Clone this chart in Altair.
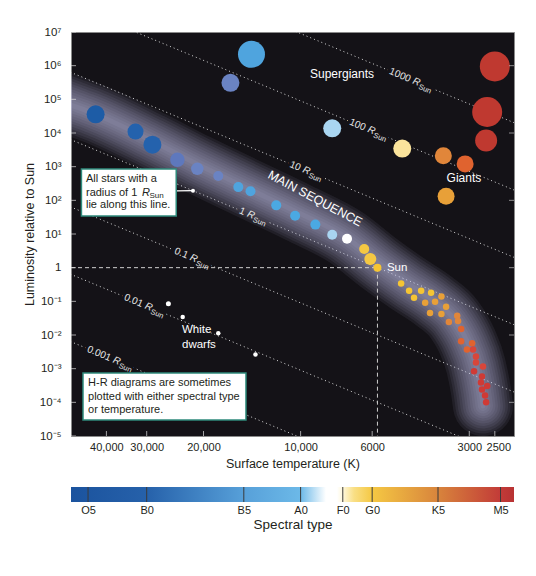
import math
import pandas as pd
import altair as alt

# ------------------------------------------------------------------ data
T_SUN = 5778.0
T_RANGE = [2180, 51500]      # temperature range shown (K)
L_RANGE = [1e-5, 1e7]        # luminosity range shown (L_sun)

# upper main sequence: temperature (K), luminosity (L_sun), spectral class, symbol diameter
ms_temp = [43200, 32500, 28800, 24100, 20900, 18000, 15600, 14300, 11900, 10400, 9000, 7980, 7180, 6350, 6080, 5778]
ms_lum = [3.6e4, 1.1e4, 4500, 1600, 860, 530, 247, 187, 71, 35, 19, 9.5, 7.2, 3.6, 1.8, 1.0]
ms_type = ["O5", "O8", "O8", "B1", "B2", "B2", "B5", "B5", "B8", "B8", "B8", "A5", "F0", "F5", "F5", "G2"]
ms_symbol = [18, 16, 18, 14.5, 12.5, 10, 10, 10, 10, 10, 10, 10, 10, 10, 12, 8]

# lower main sequence (K and M dwarfs)
dw_temp = [4880, 4610, 4230, 3940, 4450, 3660, 4110, 3830, 3540, 3970, 3660, 3270, 3470, 3250, 3180,
           3180, 2940, 3050, 2920, 2860, 2860, 2720, 2900, 2740, 2760, 2640, 2740, 2680, 2660]
dw_lum = [0.339, 0.208, 0.208, 0.18, 0.128, 0.138, 0.091, 0.097, 0.069, 0.045, 0.042, 0.037, 0.0243, 0.026, 0.015,
          0.0065, 0.00566, 0.00373, 0.00373, 0.0023, 0.00152, 0.00115, 8.4e-4, 5.9e-4, 3.9e-4, 3.07e-4, 2.4e-4, 1.6e-4, 1.0e-4]
dw_type = ["K0", "K0", "K0", "K0", "K0", "K3", "K3", "K3", "K3", "K3", "K3", "K7", "K7", "K7", "M0",
           "M0", "M0", "M0", "M2", "M2", "M2", "M2", "M4", "M4", "M4", "M4", "M4", "M4", "M4"]
dw_symbol = [6.5, 6.5, 6.5, 6.5, 6.5, 6.5, 6.5, 6.5, 6.5, 6.5, 6.5, 6.5, 6.5, 6.5, 6.5,
             6.5, 6.5, 6.5, 6.5, 6.5, 6.5, 6.5, 6.5, 6.5, 6.5, 6.5, 6.5, 6.5, 6.5]

# giants and supergiants
gi_temp = [2500, 2640, 2660, 14200, 16500, 7980, 4840, 3610, 3090, 3540]
gi_lum = [9.5e5, 4.2e4, 6000, 2.17e6, 3.1e5, 1.38e4, 3440, 2110, 1210, 132]
gi_type = ["M5", "M5", "M5", "B5", "B2", "A5", "G5", "K7", "M0", "K3"]
gi_symbol = [30, 30, 22, 27, 18, 18, 18, 17, 17, 17]

# white dwarfs
wd_temp = [25700, 23200, 18000, 13800]
wd_lum = [0.0847, 0.0344, 0.0113, 0.00264]
wd_type = ["D", "D", "D", "D"]
wd_symbol = [5, 4.5, 4.5, 4.5]

# spectral class -> star colour
type_domain = ["O5", "O8", "B1", "B2", "B5", "B8", "A5", "F0", "F5", "G2", "G5",
               "K0", "K3", "K7", "M0", "M2", "M4", "M5", "D"]
type_colors = ["#1d5ca6", "#2462ad", "#5e78bd", "#6a83c3", "#4fa4de", "#4ba9e2", "#a9d5f1", "#ffffff",
               "#f5c843", "#f6c532", "#fbe49c", "#f5c534", "#e8a038", "#e1863a", "#e0632f",
               "#d8463a", "#cf3a35", "#bf3930", "#ffffff"]

# main-sequence band centre line
band_temp = [64700, 51500, 43390, 28880, 20960, 14450, 10120, 7180, 5716, 4681, 3861, 3346, 3051, 2860, 2760, 2720]
band_lum = [1.54e5, 6.79e4, 3.67e4, 5790, 1202, 217, 42.1, 7.62, 1.38, 0.351, 0.1026, 0.0299, 0.00665, 0.0012, 2.18e-4, 7.8e-5]

# lines of constant radius
radii = [1000, 100, 10, 1, 0.1, 0.01, 0.001]
radius_text = ["1000", "100", "10", "1", "0.1", "0.01", "0.001"]
radius_label_temp = [4510, 6220, 9890, 14700, 22100, 30500, 38300]
radius_line_temp = [90000, 1500]

# axes
y_ticks = [1e-5, 1e-4, 1e-3, 1e-2, 1e-1, 1, 1e1, 1e2, 1e3, 1e4, 1e5, 1e6, 1e7]
y_right_ticks = [1e-4, 1e-2, 1, 1e2, 1e4, 1e6]
x_ticks = [40000, 30000, 20000, 10000, 6000, 3000, 2500]

# spectral type bar
spec_names = ["O5", "B0", "B5", "A0", "F0", "G0", "K5", "M5"]
spec_temp = [45600, 30000, 15000, 10000, 7400, 6000, 3750, 2400]
grad_temp = [51500, 30000, 15000, 10000, 8345, 7715, 7400, 6832, 6000, 3750, 2400, 2180]
grad_color = ["#1b539e", "#2661aa", "#57a0d9", "#6cb9e8", "#ffffff", "#ffffff", "#fff8dc", "#f9df85",
              "#f5c843", "#d8843c", "#c23b38", "#b83233"]

# annotations
box1 = {"t1": 47800, "t2": 24300, "l1": 853, "l2": 34.3}
box1_lines = ["All stars with a", "radius of 1", "lie along this line."]
box1_temp = 46280
box1_lum = [430, 165, 72.8]
box2 = {"t1": 47270, "t2": 14770, "l1": 7.45e-4, "l2": 2.99e-5}
box2_lines = ["H-R diagrams are sometimes", "plotted with either spectral type", "or temperature."]
box2_temp = 45600
box2_lum = [3.76e-4, 1.44e-4, 5.93e-5]
pointer_temp = [24300, 21560]
pointer_lum_start = 190

# ------------------------------------------------------------------ style
BG = "#141217"
FONT = "Liberation Sans"
INK = "#231f20"
W, H = 443, 404


def lum_on_radius(r, t):
    return r ** 2 * (t / T_SUN) ** 4


xs = alt.Scale(type="log", domain=T_RANGE, reverse=True, nice=False)
ys = alt.Scale(type="log", domain=L_RANGE, nice=False)

sup = {"-": "\u207b", "0": "\u2070", "1": "\u00b9", "2": "\u00b2", "3": "\u00b3", "4": "\u2074",
       "5": "\u2075", "6": "\u2076", "7": "\u2077", "8": "\u2078", "9": "\u2079"}
y_labels = ["1" if e == 0 else "10" + "".join(sup[c] for c in str(e)) for e in range(-5, 8)]
y_expr = "[" + ",".join("'%s'" % s for s in y_labels) + "][round(log(datum.value)/LN10)+5]"

x_expr = "datum.value >= 10000 ? format(datum.value, ',') : format(datum.value, 'd')"
x_axis = alt.Axis(values=x_ticks, title="Surface temperature (K)", ticks=False, tickSize=0, domain=False,
                  grid=False, labelPadding=5, titlePadding=5, labelFontSize=11, titleFontSize=12.5,
                  labelOverlap=False, labelFlush=False, labelExpr=x_expr,
                  labelOffset={"condition": {"test": "datum.value == 2500", "value": 3.5}, "value": 0})
y_axis = alt.Axis(values=y_ticks, title="Luminosity relative to Sun", ticks=False, tickSize=0, domain=False,
                  grid=False, labelPadding=10, titlePadding=2.4, labelFontSize=11.5, titleFontSize=12.5,
                  labelOverlap=False, labelFlush=False, labelExpr=y_expr)


def X(f):
    return alt.X(f, type="quantitative", scale=xs, axis=x_axis)


def Y(f):
    return alt.Y(f, type="quantitative", scale=ys, axis=y_axis)


# ------------------------------------------------------------------ layers
layers = []

# constant-radius lines
rl = []
for r, name in zip(radii, radius_text):
    for t in radius_line_temp:
        rl.append({"R": name, "T": t, "L": lum_on_radius(r, t)})
layers.append(
    alt.Chart(pd.DataFrame(rl)).mark_line(color="#d8d8d8", strokeWidth=1, strokeDash=[1, 3], clip=True)
    .encode(x=X("T"), y=Y("L"), detail="R:N")
)

# radius labels: dark halo that interrupts the dotted line
lab = pd.DataFrame({"num": radius_text, "T": radius_label_temp,
                    "L": [lum_on_radius(r, t) for r, t in zip(radii, radius_label_temp)],
                    "R": ["R"] * len(radii), "S": ["Sun"] * len(radii)})
ANG = 22.6
pieces = [("num", dict(align="right", dx=-2, fontSize=10)),
          ("R", dict(align="left", dx=1, fontSize=10, fontStyle="italic")),
          ("S", dict(align="left", dx=8.5, dy=3.5, fontSize=7.5))]
for field, kw in pieces:
    layers.append(alt.Chart(lab).mark_text(baseline="middle", angle=ANG, color=BG, stroke=BG, strokeWidth=6, **kw)
                  .encode(x=X("T"), y=Y("L"), text=f"{field}:N"))

# main-sequence glow
band_df = pd.DataFrame({"T": band_temp, "L": band_lum, "i": list(range(len(band_temp)))})
for w in [60, 55, 50, 45, 40, 35, 30, 25, 20, 15, 10, 5]:
    layers.append(
        alt.Chart(band_df).mark_line(strokeWidth=w, color="#cdcdf2", opacity=0.075, strokeCap="round",
                                     strokeJoin="round", interpolate="monotone", clip=True)
        .encode(x=X("T"), y=Y("L"), order="i:Q")
    )

for field, kw in pieces:
    layers.append(alt.Chart(lab).mark_text(baseline="middle", angle=ANG, color="#e8e8e8", **kw)
                  .encode(x=X("T"), y=Y("L"), text=f"{field}:N"))

# Sun guide lines
sun_h = pd.DataFrame({"T": [T_RANGE[1]], "T2": [T_SUN], "L": [1.0]})
sun_v = pd.DataFrame({"T": [T_SUN], "L": [1.0], "L2": [L_RANGE[0]]})
layers.append(alt.Chart(sun_h).mark_rule(color="#cfcfcf", strokeWidth=1, strokeDash=[4, 3])
              .encode(x=X("T"), x2="T2", y=Y("L")))
layers.append(alt.Chart(sun_v).mark_rule(color="#cfcfcf", strokeWidth=1, strokeDash=[4, 3])
              .encode(x=X("T"), y=Y("L"), y2="L2"))

# stars
stars = pd.DataFrame({
    "T": gi_temp + ms_temp + dw_temp + wd_temp,
    "L": gi_lum + ms_lum + dw_lum + wd_lum,
    "type": gi_type + ms_type + dw_type + wd_type,
    "symbol": gi_symbol + ms_symbol + dw_symbol + wd_symbol,
})
layers.append(
    alt.Chart(stars).mark_circle(opacity=1, strokeWidth=0)
    .encode(x=X("T"), y=Y("L"),
            color=alt.Color("type:N", scale=alt.Scale(domain=type_domain, range=type_colors), legend=None),
            size=alt.Size("symbol:Q", scale=alt.Scale(type="pow", exponent=2, domain=[0, 30], range=[0, 900]),
                          legend=None))
)

# inner ticks
layers.append(alt.Chart(pd.DataFrame({"T": [T_RANGE[1]] * len(y_ticks), "L": y_ticks}))
              .mark_tick(orient="horizontal", size=10, thickness=1, color="#e0e0e0", clip=True)
              .encode(x=X("T"), y=Y("L")))
layers.append(alt.Chart(pd.DataFrame({"T": [T_RANGE[0]] * len(y_right_ticks), "L": y_right_ticks}))
              .mark_tick(orient="horizontal", size=10, thickness=1, color="#bdbdbd", clip=True)
              .encode(x=X("T"), y=Y("L")))
layers.append(alt.Chart(pd.DataFrame({"T": x_ticks, "L": [L_RANGE[0]] * len(x_ticks)}))
              .mark_tick(orient="vertical", size=10, thickness=1, color="#e0e0e0", clip=True)
              .encode(x=X("T"), y=Y("L")))

# text annotations
layers.append(alt.Chart(pd.DataFrame({"t": ["Supergiants", "Giants"], "T": [7443, 3116], "L": [5.66e5, 461]}))
              .mark_text(color="white", fontSize=12, align="center", baseline="middle")
              .encode(x=X("T"), y=Y("L"), text="t:N"))
layers.append(alt.Chart(pd.DataFrame({"t": ["White", "dwarfs", "Sun"], "T": [23320, 23320, 5399],
                                      "L": [0.0141, 0.00506, 0.95]}))
              .mark_text(color="white", fontSize=11.5, align="left", baseline="middle")
              .encode(x=X("T"), y=Y("L"), text="t:N"))
layers.append(alt.Chart(pd.DataFrame({"t": ["MAIN SEQUENCE"], "T": [9020], "L": [113]}))
              .mark_text(color="white", fontSize=12.5, align="center", baseline="middle", angle=28)
              .encode(x=X("T"), y=Y("L"), text="t:N"))

# pointer from box 1 to the 1 R_sun line
ptr = pd.DataFrame({"T": [pointer_temp[0]], "T2": [pointer_temp[1]], "L": [pointer_lum_start],
                    "L2": [lum_on_radius(1, pointer_temp[1])]})
layers.append(alt.Chart(ptr).mark_rule(color="white", strokeWidth=1.2)
              .encode(x=X("T"), x2="T2", y=Y("L"), y2="L2"))
layers.append(alt.Chart(ptr).mark_circle(color="white", opacity=1, size=16)
              .encode(x=X("T2"), y=Y("L2")))

# callout boxes
for b in (box1, box2):
    layers.append(alt.Chart(pd.DataFrame([b])).mark_rect(fill="white", stroke="#2f8b7c", strokeWidth=1.5)
                  .encode(x=X("t1"), x2="t2", y=Y("l1"), y2="l2"))
layers.append(alt.Chart(pd.DataFrame({"t": box1_lines, "T": [box1_temp] * 3, "L": box1_lum}))
              .mark_text(color=INK, fontSize=11, align="left", baseline="middle")
              .encode(x=X("T"), y=Y("L"), text="t:N"))
r_piece = pd.DataFrame({"t": ["R"], "T": [box1_temp], "L": [box1_lum[1]]})
s_piece = pd.DataFrame({"t": ["Sun"], "T": [box1_temp], "L": [box1_lum[1]]})
layers.append(alt.Chart(r_piece).mark_text(color=INK, fontSize=11, fontStyle="italic", align="left",
                                           baseline="middle", dx=56)
              .encode(x=X("T"), y=Y("L"), text="t:N"))
layers.append(alt.Chart(s_piece).mark_text(color=INK, fontSize=8, align="left", baseline="middle", dx=63.5, dy=2.5)
              .encode(x=X("T"), y=Y("L"), text="t:N"))
layers.append(alt.Chart(pd.DataFrame({"t": box2_lines, "T": [box2_temp] * 3, "L": box2_lum}))
              .mark_text(color=INK, fontSize=11, align="left", baseline="middle")
              .encode(x=X("T"), y=Y("L"), text="t:N"))

main = alt.layer(*layers).properties(
    width=W, height=H, view=alt.ViewBackground(fill=BG, stroke="#8a8a8a", strokeWidth=1)
)

# ------------------------------------------------------------------ spectral-type bar
lt = [math.log10(t) for t in T_RANGE]


def frac(t):
    return (lt[1] - math.log10(t)) / (lt[1] - lt[0])


grad = alt.LinearGradient(
    gradient="linear", x1=0, x2=1, y1=0, y2=0,
    stops=[alt.GradientStop(color=c, offset=max(0.0, min(1.0, frac(t)))) for t, c in zip(grad_temp, grad_color)],
)
spec_expr = ("[" + ",".join("'%s'" % s for s in spec_names) + "][indexof(["
             + ",".join(str(t) for t in spec_temp) + "], datum.value)]")
cb_axis = alt.Axis(values=spec_temp, labelExpr=spec_expr, title="Spectral type", ticks=False, tickSize=0,
                   domain=False, grid=False, labelPadding=2, titlePadding=2, labelFontSize=11,
                   titleFontSize=13.5, titleFontWeight="normal", labelOverlap=False, labelFlush=False)
cb_x = lambda f: alt.X(f, type="quantitative", scale=alt.Scale(type="log", domain=T_RANGE, reverse=True, nice=False),
                       axis=cb_axis)
bar = alt.Chart(pd.DataFrame({"T": [T_RANGE[1]], "T2": [T_RANGE[0]]})).mark_rect(fill=grad, strokeWidth=0) \
    .encode(x=cb_x("T"), x2="T2")
bar_ticks = alt.Chart(pd.DataFrame({"T": spec_temp})).mark_rule(color="#3a3a3a", strokeWidth=1) \
    .encode(x=cb_x("T"))
colorbar = alt.layer(bar, bar_ticks).properties(
    width=W, height=15, view=alt.ViewBackground(stroke="transparent")
)

chart = alt.vconcat(main, colorbar, spacing=16).properties(
    padding={"left": 15, "top": 17, "right": 5, "bottom": 5}
).configure(font=FONT).configure_axis(
    labelColor=INK, titleColor=INK, titleFontWeight="normal", labelFont=FONT, titleFont=FONT
).configure_text(font=FONT)

chart.save("out.html", embed_options={"renderer": "svg", "actions": False})
